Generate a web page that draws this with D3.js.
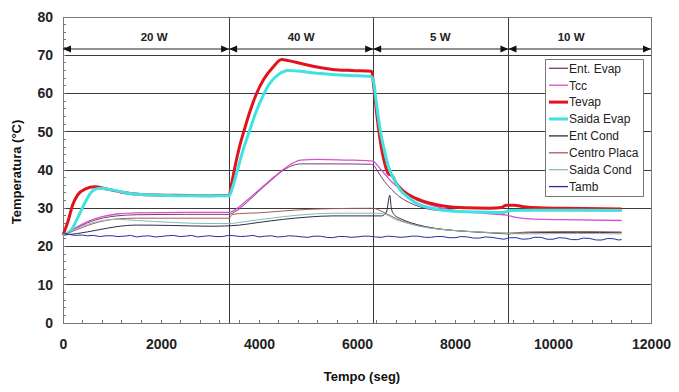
<!DOCTYPE html>
<html><head><meta charset="utf-8">
<script src="https://cdn.jsdelivr.net/npm/d3@7"></script>
<style>
html,body{margin:0;padding:0;background:#fff;}
svg{display:block;font-family:"Liberation Sans",Arial,sans-serif;}
</style></head>
<body><svg id="chart" width="679" height="392"></svg>
<script>
// ---------- data ----------
const xTicks = [0, 2000, 4000, 6000, 8000, 10000, 12000];
const yTicks = [0, 10, 20, 30, 40, 50, 60, 70, 80];
const phaseBounds = [0, 3390, 6330, 9090, 12000];
const phaseLabels = ["20 W", "40 W", "5 W", "10 W"];
const phaseLabelPos = [1860, 4860, 7700, 10370];
const seriesNames = ["Ent. Evap", "Tcc", "Tevap", "Saida Evap", "Ent Cond", "Centro Placa", "Saida Cond", "Tamb"];
const seriesColors = ["#7a3c72", "#d651d0", "#e1141c", "#3fe3e3", "#2e2e46", "#a45a5a", "#86b8b8", "#2a2aa6"];
const seriesWidths = [1, 1.3, 3, 3, 1, 1, 1, 1];

const entEvap = [[0,23],[200,24.3],[500,26.2],[800,27.4],[1100,28],[1500,28.3],[2500,28.4],[3390,28.4],[3500,29],[3750,31.5],[4000,34.5],[4250,37.3],[4450,39.5],[4650,41],[4850,41.6],[5500,41.6],[6270,41.5],[6330,41.3],[6430,39.5],[6560,37],[6700,35],[6850,33.2],[7050,31.6],[7300,30.3],[7700,29.4],[8500,29.1],[9000,29],[9200,29.4],[10000,29.4],[11400,29.3]];
const tcc = [[0,23],[200,24.5],[500,26.5],[800,27.8],[1100,28.5],[1500,28.8],[2500,28.9],[3390,28.9],[3500,29.5],[3750,32],[4000,34.8],[4250,37.6],[4450,39.7],[4650,41.5],[4850,42.6],[5200,42.8],[5800,42.6],[6270,42.4],[6330,42.3],[6430,41],[6530,39.5],[6680,37.3],[6820,35.6],[7000,33.8],[7220,32.2],[7500,30.8],[7840,29.8],[8300,29],[8800,28.5],[9060,28.2],[9250,27.6],[9530,27.2],[10200,27],[11400,26.8]];
const tevap = [[0,23],[100,26.5],[200,31],[300,33.5],[450,35],[650,35.6],[900,35],[1200,34.2],[1600,33.6],[2200,33.4],[3000,33.3],[3390,33.4],[3450,37],[3520,41.5],[3600,46],[3700,50.5],[3820,55.5],[3950,60],[4100,63.8],[4280,66.8],[4460,68.9],[4600,68.6],[4840,67.9],[5100,67.1],[5500,66.3],[5900,66],[6300,65.8],[6340,62],[6400,55],[6470,48],[6560,42],[6640,39],[6720,38.5],[6800,36.5],[6950,34.5],[7200,32.6],[7500,31.3],[7800,30.5],[8200,30.1],[8700,30],[8950,30.2],[9050,30.8],[9200,30.8],[9400,30.4],[9700,30.1],[10200,30],[11400,29.8]];
const saidaEvap = [[0,23],[150,24],[300,27.5],[450,31.5],[600,34.5],[750,35.2],[1000,34.8],[1300,34],[1700,33.5],[2300,33.3],[3390,33.3],[3450,35],[3550,39.5],[3670,45],[3800,50],[3920,54.5],[4050,58.5],[4200,62.3],[4400,65],[4600,66],[5177,65.3],[5857,64.7],[6300,64.4],[6340,63],[6400,57],[6480,50],[6560,45],[6640,41],[6710,38.7],[6800,36.5],[6900,34.5],[7030,33],[7200,31.4],[7500,30.1],[7900,29.3],[8500,29],[9000,28.9],[9120,29.4],[9600,29.5],[10500,29.5],[11400,29.4]];
const entCond = [[0,23],[300,23.4],[700,24.3],[1100,25.2],[1500,25.6],[2200,25.5],[3000,25.3],[3390,25.4],[3600,25.6],[4000,26.3],[4500,27.1],[5000,27.7],[5500,28],[6330,28],[6500,28],[6600,29],[6670,33.4],[6700,30],[6760,28.3],[6900,27.2],[7100,26.2],[7400,25.2],[7800,24.4],[8300,23.9],[8800,23.5],[9090,23.3],[9500,23.6],[10500,23.7],[11400,23.6]];
const centroPlaca = [[0,23],[300,24.5],[700,26.3],[1100,27.2],[1500,27.4],[3390,27.4],[3450,28.3],[3600,28.6],[4000,28.8],[4500,29.3],[5000,29.7],[5500,29.9],[6330,30],[6450,29.5],[6600,28.6],[6800,27.3],[7000,26.3],[7300,25.3],[7700,24.5],[8200,24],[8800,23.6],[9090,23.5],[9500,23.8],[10500,23.9],[11400,23.8]];
const saidaCond = [[0,23],[300,24.8],[700,26.5],[1100,27.1],[1500,26.8],[2200,26.3],[3000,26],[3390,26],[3600,26.3],[4000,27],[4500,27.8],[5000,28.4],[5500,28.7],[6330,28.7],[6500,28.6],[6600,28.3],[6800,27],[7000,26.2],[7300,25.2],[7700,24.5],[8200,24],[8800,23.6],[9090,23.4],[9500,23.3],[10500,23.4],[11400,23.3]];
const tamb = [[0,23.6],[100,23.2],[250,22.9],[380,23.0],[500,22.8],[620,22.9],[750,22.6],[880,22.8],[1000,22.8],[1120,22.6],[1250,22.7],[1380,22.9],[1500,22.5],[1620,22.7],[1750,22.8],[1880,22.5],[2000,22.6],[2120,22.8],[2250,22.9],[2380,22.6],[2500,22.7],[2620,22.9],[2750,22.5],[2880,22.7],[3000,22.8],[3120,22.6],[3250,22.6],[3380,22.9],[3500,22.8],[3620,22.6],[3750,22.7],[3880,22.9],[4000,22.5],[4120,22.7],[4250,22.8],[4380,22.5],[4500,22.6],[4620,22.8],[4750,22.7],[4880,22.5],[5000,22.4],[5120,22.7],[5250,22.7],[5380,22.4],[5500,22.3],[5620,22.6],[5750,22.6],[5880,22.4],[6000,22.5],[6120,22.7],[6250,22.7],[6380,22.5],[6500,22.4],[6620,22.7],[6750,22.6],[6880,22.4],[7000,22.5],[7120,22.7],[7250,22.7],[7380,22.4],[7500,22.4],[7620,22.6],[7750,22.6],[7880,22.3],[8000,22.3],[8120,22.6],[8250,22.5],[8380,22.2],[8500,22.2],[8620,22.5],[8750,22.4],[8880,22.1],[9000,21.9],[9120,22.3],[9250,22.3],[9380,21.9],[9500,22.0],[9620,22.4],[9750,22.4],[9880,21.9],[10000,21.9],[10120,22.3],[10250,22.2],[10380,21.8],[10500,21.8],[10620,22.2],[10750,22.1],[10880,21.7],[11000,21.7],[11120,22.1],[11250,22.0],[11330,21.7],[11400,21.8]];
const seriesData = [entEvap, tcc, tevap, saidaEvap, entCond, centroPlaca, saidaCond, tamb];

// ---------- layout ----------
const svg = d3.select("#chart");
const L = 63, R = 651, T = 17, B = 323;
const x = d3.scaleLinear().domain([0, 12000]).range([L, R]);
const y = d3.scaleLinear().domain([0, 80]).range([B, T]);

// gridlines
svg.append("g").selectAll("line").data(yTicks.filter(d => d > 0 && d < 80)).join("line")
  .attr("x1", L).attr("x2", R).attr("y1", d => y(d)).attr("y2", d => y(d))
  .attr("stroke", "#3a3a3a").attr("stroke-width", 1).attr("shape-rendering", "crispEdges");

// phase vertical lines
svg.append("g").selectAll("line").data(phaseBounds.slice(1, -1)).join("line")
  .attr("x1", d => x(d)).attr("x2", d => x(d)).attr("y1", T).attr("y2", B)
  .attr("stroke", "#3a3a3a").attr("stroke-width", 1).attr("shape-rendering", "crispEdges");

// frame
svg.append("rect").attr("x", L).attr("y", T).attr("width", R - L).attr("height", B - T)
  .attr("fill", "none").attr("stroke", "#777").attr("stroke-width", 1).attr("shape-rendering", "crispEdges");

// axes
const yAxis = d3.axisLeft(y).tickValues(yTicks).tickSize(0).tickPadding(10);
const gy = svg.append("g").attr("transform", `translate(${L},0)`).call(yAxis);
gy.select(".domain").remove();
gy.selectAll("text").attr("font-size", 14).attr("font-weight", "bold").attr("fill", "#222")
  .attr("font-family", "Liberation Sans, Arial, sans-serif");

const xAxis = d3.axisBottom(x).tickValues(xTicks).tickSize(0).tickPadding(16).tickFormat(d3.format("d"));
const gx = svg.append("g").attr("transform", `translate(0,${B})`).call(xAxis);
gx.select(".domain").remove();
gx.selectAll("text").attr("font-size", 14).attr("font-weight", "bold").attr("fill", "#222")
  .attr("font-family", "Liberation Sans, Arial, sans-serif");

// minor ticks
svg.append("g").selectAll("line").data(d3.range(0, 80, 2)).join("line")
  .attr("x1", L).attr("x2", L + 3).attr("y1", d => y(d)).attr("y2", d => y(d))
  .attr("stroke", "#777").attr("shape-rendering", "crispEdges");
svg.append("g").selectAll("line").data(d3.range(400, 12000, 400)).join("line")
  .attr("x1", d => x(d)).attr("x2", d => x(d)).attr("y1", B).attr("y2", B - 3)
  .attr("stroke", "#777").attr("shape-rendering", "crispEdges");

// axis titles
svg.append("text").attr("x", 362).attr("y", 381).attr("text-anchor", "middle")
  .attr("font-size", 13).attr("font-weight", "bold").attr("fill", "#111").text("Tempo (seg)");
svg.append("text").attr("transform", "translate(21,172) rotate(-90)").attr("text-anchor", "middle")
  .attr("font-size", 13).attr("font-weight", "bold").attr("fill", "#111").text("Temperatura (°C)");

// phase arrows
const arrowY = 49;
const ag = svg.append("g");
for (let i = 0; i < phaseLabels.length; i++) {
  const a = x(phaseBounds[i]), b = x(phaseBounds[i + 1]);
  ag.append("line").attr("x1", a).attr("x2", b).attr("y1", arrowY).attr("y2", arrowY)
    .attr("stroke", "#222").attr("stroke-width", 1);
  ag.append("path").attr("d", `M${a},${arrowY}L${a + 8},${arrowY - 3.5}L${a + 8},${arrowY + 3.5}Z`).attr("fill", "#111");
  ag.append("path").attr("d", `M${b},${arrowY}L${b - 8},${arrowY - 3.5}L${b - 8},${arrowY + 3.5}Z`).attr("fill", "#111");
  ag.append("text").attr("x", x(phaseLabelPos[i])).attr("y", 41).attr("text-anchor", "middle")
    .attr("font-size", 11.5).attr("font-weight", "bold").attr("fill", "#222").text(phaseLabels[i]);
}

// series lines
const smooth = d3.line().x(d => x(d[0])).y(d => y(d[1])).curve(d3.curveMonotoneX);
const straight = d3.line().x(d => x(d[0])).y(d => y(d[1]));
const lg = svg.append("g").attr("fill", "none").attr("stroke-linejoin", "round");
seriesData.forEach((data, i) => {
  const gen = seriesNames[i] === "Tamb" ? straight : smooth;
  lg.append("path").attr("d", gen(data)).attr("stroke", seriesColors[i])
    .attr("stroke-width", seriesWidths[i]);
});

// legend
const legX = 545, legY = 59, legW = 98, legH = 137;
svg.append("rect").attr("x", legX).attr("y", legY).attr("width", legW).attr("height", legH)
  .attr("fill", "#fff").attr("stroke", "#777").attr("shape-rendering", "crispEdges");
const leg = svg.append("g").selectAll("g").data(seriesNames).join("g")
  .attr("transform", (d, i) => `translate(${legX},${68.3 + i * 16.9})`);
leg.append("line").attr("x1", 4).attr("x2", 23).attr("y1", 0).attr("y2", 0)
  .attr("stroke", (d, i) => seriesColors[i]).attr("stroke-width", (d, i) => seriesWidths[i] > 2 ? 3 : 1.3);
leg.append("text").attr("x", 24).attr("y", 4.3).attr("font-size", 12).attr("fill", "#222").text(d => d);
</script>
</body></html>
